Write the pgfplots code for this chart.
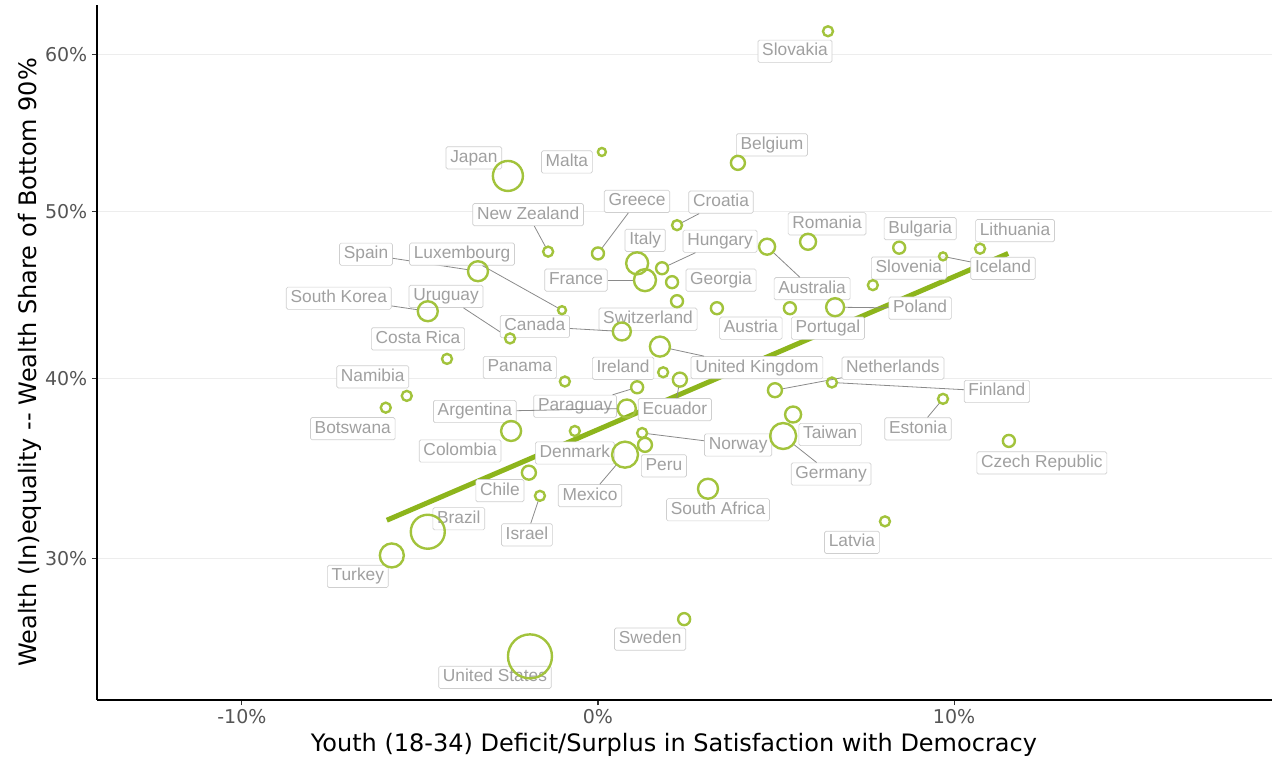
\documentclass[border=0pt]{standalone}
\usepackage{pgfplots}
\pgfplotsset{compat=1.18}
\usepackage{pgfplotstable}
\usepackage{fontspec}
\setmainfont{DejaVu Sans}
\newfontfamily\labfont{Liberation Sans}
\definecolor{ptgreen}{HTML}{A2C33C}
\definecolor{linegreen}{HTML}{8DB51C}
\definecolor{labborder}{HTML}{CFCFCF}
\definecolor{labtext}{HTML}{A0A0A0}
\definecolor{ticklab}{HTML}{555555}
\definecolor{seggray}{HTML}{8A8A8A}
\tikzset{lab/.style={draw=labborder, fill=white, rounded corners=1.2pt, line width=0.5pt, text=labtext,
  font=\labfont\fontsize{13}{15}\selectfont, inner xsep=3.2pt, inner ysep=2.2pt, text height=9.5pt, text depth=2.8pt}}
\pgfplotstableread[col sep=comma]{
x,y,r,dx,dy,seg,label
6.46,61.52,3.75,-24.75,-15,0,Slovakia
3.93,53.04,5.25,25.5,13.5,0,Belgium
0.11,53.73,3,-26.25,-7.5,0,Malta
-2.53,52.22,11.25,-25.5,13.5,0,Japan
-1.40,47.54,3.75,-15,27.75,1,New Zealand
0.00,47.43,4.5,29.25,39,1,Greece
2.22,49.16,3.75,33,17.25,1,Croatia
1.10,46.83,8.25,6,17.25,0,Italy
1.80,46.53,4.5,43.5,20.25,1,Hungary
1.32,45.81,8.25,-51.75,0,1,France
2.08,45.69,4.5,36.75,1.5,0,Georgia
2.22,44.55,4.5,-21.75,-13.5,0,Switzerland
3.34,44.13,4.5,25.5,-15,0,Austria
5.39,44.13,4.5,28.5,-15,0,Portugal
6.66,44.19,6.75,63.75,-0.75,1,Poland
4.75,47.84,6,33.75,-31.5,1,Australia
5.90,48.14,6,14.25,13.5,0,Romania
8.46,47.78,4.5,15.75,14.25,0,Bulgaria
10.73,47.72,3.75,26.25,13.5,0,Lithuania
9.69,47.25,3,45,-9,1,Iceland
7.72,45.51,3.75,27,12.75,0,Slovenia
-3.37,46.35,7.5,-84,12.75,1,Spain
-1.01,44.01,3,-75,42,1,Luxembourg
-4.78,43.95,7.5,-66.75,9.75,1,South Korea
-2.47,42.34,3.75,-48,31.5,1,Uruguay
0.67,42.75,6.75,-65.25,3.75,1,Canada
-4.24,41.14,3.75,-21.75,15,0,Costa Rica
-5.37,39.00,3.75,-25.5,14.25,0,Namibia
-5.96,38.33,3.75,-24.75,-15.75,0,Botswana
-0.93,39.83,3.75,-33.75,10.5,0,Panama
1.83,40.36,3.75,-30,3,0,Ireland
2.30,39.94,5.25,-3.75,-22.5,1,Ecuador
1.74,41.86,7.5,72.75,-15.75,1,United Kingdom
1.10,39.50,4.5,-46.5,-14.25,1,Paraguay
0.81,38.28,6.75,-114,-2.25,1,Argentina
-2.44,37.00,7.5,-38.25,-15,0,Colombia
-0.65,37.00,3.75,0,-16.5,0,Denmark
0.76,35.67,9.75,-26.25,-30.75,1,Mexico
1.32,36.22,5.25,14.25,-15.75,0,Peru
1.24,36.89,3.75,72,-9,1,Norway
-1.94,34.67,5.25,-21.75,-13.5,0,Chile
-1.63,33.39,3.75,-9.75,-29.25,1,Israel
-4.78,31.44,12.75,23.25,9.75,0,Brazil
-5.79,30.17,9,-25.5,-15.75,0,Turkey
3.09,33.78,7.5,7.5,-15.75,0,South Africa
4.97,39.33,5.25,88.5,16.5,1,Netherlands
6.57,39.78,3.75,123.75,-6.75,1,Finland
9.69,38.83,3.75,-18.75,-22.5,1,Estonia
5.48,37.94,6,27.75,-15,0,Taiwan
5.20,36.72,9.75,36,-28.5,1,Germany
11.54,36.44,4.5,24.75,-16.5,0,Czech Republic
8.06,32.00,3.75,-24.75,-15.75,0,Latvia
2.42,26.84,4.5,-25.5,-15,0,Sweden
-1.91,24.95,16.5,-26.25,-15.75,0,United States
}\countries
\begin{document}
\begin{tikzpicture}
\begin{axis}[
 at={(0,0)}, anchor=south west,
 scale only axis, width=881.25pt, height=521.25pt,
 xmin=-14.07, xmax=18.93, ymin=22.79, ymax=63.27,
 y coord trafo/.code={\pgfmathparse{(#1)^0.7}},
 y coord inv trafo/.code={\pgfmathparse{(#1)^(1/0.7)}},
 axis x line*=bottom, axis y line*=left,
 axis line style={black, line width=1.1pt},
 xtick={-10,0,10}, xticklabels={-10\%,0\%,10\%},
 ytick={30,40,50,60}, yticklabels={30\%,40\%,50\%,60\%},
 tick align=outside, major tick length=3.75pt,
 tick style={line width=0.8pt, color=black!80},
 tick label style={font=\fontsize{14.25}{16}\selectfont, text=ticklab},
 ymajorgrids, grid style={color=black!7, line width=0.8pt},
 xlabel={Youth (18-34) Deficit/Surplus in Satisfaction with Democracy},
 ylabel={Wealth (In)equality {-}{-} Wealth Share of Bottom 90\%},
 label style={font=\fontsize{18}{21}\selectfont},
 x label style={at={(axis description cs:0.491,-0.0647)}, anchor=center},
 y label style={at={(axis description cs:-0.057,0.486)}, anchor=center},
 clip=false,
 /pgf/number format/assume math mode=true,
]
% labels with connector segments
\addplot[only marks, mark=none,
  point meta=explicit symbolic,
  visualization depends on={\thisrow{dx}\as\dx},
  visualization depends on={\thisrow{dy}\as\dy},
  visualization depends on={\thisrow{seg}\as\seg},
  visualization depends on={\thisrow{r}\as\rr},
  nodes near coords,
  every node near coord/.style={lab, anchor=center, xshift=\dx pt, yshift=\dy pt,
    append after command={([xshift=-\dx pt,yshift=-\dy pt]\tikzlastnode.center) edge[draw=seggray, line width=0.6pt, draw opacity=\seg, shorten <=\rr pt] (\tikzlastnode)}},
] table[x=x,y=y,meta=label] {\countries};
% points
\addplot[scatter, only marks, mark=o,
  point meta=\thisrow{r},
  scatter/use mapped color={draw=ptgreen},
  visualization depends on={\thisrow{r}\as\rr},
  scatter/@pre marker code/.append style={/tikz/mark size=\rr pt},
  mark options={line width=1.8pt},
] table[x=x,y=y] {\countries};
% fitted line
\addplot[linegreen, line width=3.75pt] coordinates {(-5.93,32.06) (11.52,47.43)};
\end{axis}
\pgfresetboundingbox
\path (-72.75pt,-45pt) rectangle (882.75pt,525pt);
\end{tikzpicture}
\end{document}
